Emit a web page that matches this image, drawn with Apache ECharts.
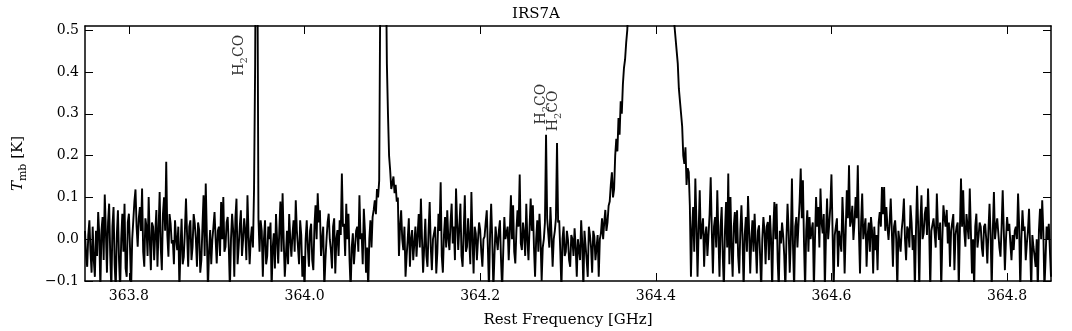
<!DOCTYPE html>
<html>
<head>
<meta charset="utf-8">
<title>IRS7A</title>
<script src="https://cdn.jsdelivr.net/npm/echarts@6/dist/echarts.min.js"></script>
<style>
  html, body { margin: 0; padding: 0; background: #fff; }
  #spec { width: 1072px; height: 331px; }
</style>
</head>
<body>
<div id="spec"></div>
<script>
// channel grid of the spectrum (GHz)
var firstChannel = 363.75;
var channelWidth = 0.00125;

// T_mb [K] per channel
var tmbLow = [
  0.02, -0.04, -0.066, 0.01, 0.045, -0.03, -0.08, 0.03, -0.05, -0.09,
  0.02, -0.04, 0.065, 0.01, -0.12, 0.02, 0.053, -0.05, 0.107, 0.02,
  -0.08, 0.04, 0.085, -0.04, -0.12, 0.03, 0.077, -0.06, -0.12, 0.01,
  0.069, -0.05, -0.12, 0.0, 0.061, -0.03, 0.085, -0.07, -0.09, 0.04,
  0.061, -0.02, -0.12, 0.0, 0.045, 0.09, 0.119, 0.03, -0.018, 0.05,
  0.077, 0.02, 0.121, -0.03, -0.066, 0.05, 0.03, -0.04, 0.101, 0.0,
  -0.074, 0.04, 0.03, -0.05, 0.014, 0.07, -0.066, 0.02, 0.113, -0.02,
  -0.074, 0.06, 0.1, 0.02, 0.185, 0.01, -0.042, 0.06, 0.037, -0.01,
  -0.002, -0.06, 0.045, 0.0, -0.026, 0.03, -0.12, -0.02, 0.049, -0.06,
  -0.042, 0.02, 0.097, 0.01, -0.066, 0.03, 0.045, -0.05, -0.018, 0.06,
  0.037, 0.0, -0.066, 0.04, 0.022, -0.08, -0.05, 0.03, 0.105, -0.04,
  0.133, 0.01, -0.12, -0.03, 0.022, -0.06, -0.002, 0.03, 0.065, 0.0,
  -0.058, 0.02, 0.03, -0.04, 0.089, 0.0, 0.101, -0.03, -0.018, 0.04,
  0.053, -0.02, -0.12, 0.0, 0.061, 0.02, -0.09, 0.05, 0.097, -0.06,
  -0.018, 0.03, 0.069, -0.04, -0.002, 0.05, 0.02, -0.05, 0.105, 0.01,
  -0.06, 0.0, 0.03, -0.02, 0.12, 0.42, 0.95, 0.7, 0.05, -0.03,
  0.045, 0.02, -0.09, 0.0, 0.045, -0.06, -0.04, 0.03, 0.0, 0.04,
  -0.12, -0.02, 0.014, -0.07, 0.06, 0.0, -0.058, 0.02, 0.09, -0.03,
  0.11, 0.0, -0.09, -0.04, 0.02, -0.06, 0.06, 0.0, -0.042, 0.01,
  0.045, -0.03, 0.093, 0.02, -0.018, -0.06, 0.045, 0.01, -0.09, -0.04,
  -0.12, 0.0, 0.045, -0.02, -0.066, 0.02, 0.037, -0.05, -0.074, 0.03,
  0.081, 0.0, 0.11, 0.04, 0.069, -0.04, -0.002, 0.03, -0.12, -0.05,
  -0.002, 0.04, 0.061, 0.0, -0.026, -0.07, 0.03, 0.05, -0.082, 0.0,
  0.022, -0.04, 0.045, 0.01, 0.157, 0.03, 0.037, -0.04, 0.085, 0.0,
  0.061, -0.05, -0.12, -0.02, 0.014, -0.06, -0.018, 0.02, 0.03, -0.03,
  0.105, 0.0, 0.014, -0.06, 0.073, 0.02, -0.08, -0.02, -0.12, 0.0,
  0.045, -0.02, 0.053, 0.07, 0.093, 0.06, 0.12, 0.1, 0.14, 0.6,
  0.7, 0.8, 0.85, 0.8, 0.7, 0.42, 0.3, 0.2, 0.165, 0.12,
  0.133, 0.15, 0.11, 0.13, 0.09, 0.1, -0.04, 0.03, 0.069, 0.0,
  -0.026, 0.03, -0.09, -0.04, 0.0, 0.05
];
var tmbMid = [
  -0.066, 0.0, 0.022, -0.05, -0.01, 0.03, -0.042, 0.01, 0.06, -0.02,
  0.097, 0.0, -0.08, -0.02, 0.049, -0.04, -0.066, 0.02, 0.089, -0.02,
  -0.074, 0.0, -0.002, 0.03, -0.082, -0.03, 0.061, 0.02, 0.136, -0.04,
  -0.08, 0.01, 0.053, -0.02, 0.069, 0.0, -0.026, 0.04, 0.085, -0.01,
  0.03, -0.05, 0.121, 0.04, -0.026, 0.03, 0.085, -0.04, -0.066, 0.02,
  0.105, -0.03, -0.018, 0.05, 0.0, -0.06, 0.113, 0.0, -0.082, 0.03,
  0.014, -0.05, -0.002, 0.04, 0.022, -0.03, -0.066, 0.0, 0.006, 0.04,
  0.069, -0.02, -0.12, 0.01, 0.085, 0.0, -0.12, -0.04, 0.03, 0.0,
  -0.026, 0.02, 0.045, -0.05, -0.12, -0.03, 0.053, 0.0, -0.002, 0.03,
  -0.05, 0.02, 0.105, 0.0, 0.081, -0.03, -0.058, 0.02, 0.069, 0.03,
  0.155, -0.01, -0.026, 0.04, 0.014, -0.04, 0.085, 0.0, -0.05, 0.03,
  0.097, 0.02, 0.081, -0.02, -0.09, 0.0, 0.045, -0.03, 0.061, 0.0,
  -0.1, -0.02, 0.0, 0.04, 0.25, 0.05, 0.053, -0.02, 0.077, 0.01,
  -0.066, 0.0, 0.02, 0.05, 0.23, 0.04, 0.045, -0.03, -0.12, 0.0,
  0.03, -0.04, -0.03, 0.02, -0.002, -0.05
];
var tmbBroad = [
  -0.066, 0.01, 0.0, -0.04, 0.026, -0.02, -0.09, 0.0, 0.0, -0.05,
  0.045, -0.01, -0.12, 0.02, 0.02, -0.05, -0.09, 0.03, 0.01, -0.02,
  -0.08, 0.02, 0.006, -0.05, -0.02, 0.01, -0.09, 0.0, 0.014, 0.05,
  0.0, 0.04, 0.07, 0.02, 0.04, 0.08, 0.09, 0.13, 0.16, 0.1,
  0.12, 0.2, 0.24, 0.21, 0.29, 0.25, 0.33, 0.3, 0.37, 0.41,
  0.43, 0.47, 0.5, 0.56, 0.6, 0.68, 0.72, 0.8, 0.86, 0.95,
  1.0, 1.1, 1.15, 1.24, 1.3, 1.35, 1.42, 1.48, 1.52, 1.57,
  1.58, 1.61, 1.62, 1.6, 1.63, 1.59, 1.6, 1.56, 1.55, 1.49,
  1.46, 1.41, 1.35, 1.26, 1.2, 1.11, 1.05, 0.96, 0.9, 0.84,
  0.77, 0.72, 0.65, 0.61, 0.56, 0.51, 0.48, 0.45, 0.42, 0.36,
  0.33, 0.3, 0.27, 0.2, 0.18, 0.22, 0.13, 0.17, 0.16, 0.08,
  -0.09, 0.02, 0.077, -0.03, 0.145, 0.04, -0.09, 0.02, 0.117, 0.0,
  -0.002, 0.05, -0.066, 0.01, 0.03, -0.04, -0.042, 0.06, 0.148, 0.02,
  -0.082, 0.03, 0.053, -0.02, 0.117, 0.01, -0.09, 0.03, 0.077, -0.04,
  -0.12, 0.02, 0.089, -0.02, 0.157, -0.06
];
var tmbHighA = [
  0.101, -0.02, -0.09, 0.03, 0.065, -0.01, 0.069, -0.04, -0.082, 0.02,
  0.081, 0.0, -0.12, 0.01, 0.053, -0.03, 0.103, 0.02, -0.082, 0.0,
  0.045, -0.03, 0.061, -0.01, -0.082, 0.02, 0.033, -0.04, -0.12, 0.0,
  0.053, 0.02, -0.06, 0.03, 0.041, -0.05, 0.057, 0.0, -0.12, 0.02,
  0.089, 0.0, 0.085, -0.05, -0.12, 0.02, -0.01, 0.04, 0.01, -0.04,
  -0.12, 0.0, 0.085, 0.02, -0.08, 0.0, 0.145, -0.02, -0.12, 0.03,
  0.053, -0.02, 0.037, 0.09, 0.169, 0.05, 0.141, -0.01, -0.12, 0.02,
  0.069, -0.03, 0.053, 0.0, 0.022, 0.04, -0.12, 0.0, 0.101, 0.03,
  0.077, -0.02, 0.121, 0.04, 0.014, 0.06, -0.12, 0.01, 0.097, 0.0,
  0.037, 0.08, 0.155, 0.02, -0.12, 0.01, 0.03, 0.05, -0.066, 0.02,
  0.022, -0.03, 0.101, 0.03, -0.082, 0.02, 0.117, 0.05, 0.177, 0.03,
  0.045, 0.08, -0.002, 0.04, 0.101, 0.05, 0.177, 0.02, -0.082, 0.04,
  0.109, 0.0, -0.002, 0.05, -0.066, 0.01, 0.04, -0.03, 0.053, 0.02,
  -0.082, 0.03, -0.026, 0.01, -0.074, 0.04, 0.065, 0.03, 0.125, 0.06,
  0.125, 0.02, 0.077, 0.03, -0.002, 0.04
];
var tmbHighB = [
  0.097, 0.02, -0.066, 0.03, 0.045, 0.0, -0.12, 0.02, 0.018, -0.03,
  0.022, 0.05, 0.097, 0.0, -0.05, 0.03, 0.022, -0.02, 0.081, 0.04,
  -0.026, 0.01, -0.12, 0.02, 0.128, 0.03, -0.12, 0.04, 0.105, 0.0,
  0.014, 0.06, 0.077, 0.01, 0.121, 0.03, -0.12, 0.02, 0.022, 0.05,
  0.053, -0.02, 0.109, 0.03, -0.002, 0.04, -0.12, 0.0, 0.081, 0.05,
  0.03, 0.07, -0.01, 0.04, -0.066, 0.02, 0.022, 0.06, -0.074, 0.01,
  0.03, 0.04, -0.12, 0.02, 0.145, 0.03, 0.117, 0.02, -0.018, 0.06,
  0.03, 0.0, 0.121, 0.02, -0.082, 0.0, -0.12, 0.03, 0.061, -0.02,
  0.006, 0.04, 0.03, -0.02, -0.042, 0.03, 0.037, 0.0, -0.058, 0.02,
  0.085, 0.01, -0.12, 0.02, 0.113, 0.0, 0.03, 0.05, 0.053, -0.02,
  -0.042, 0.03, 0.117, 0.02, -0.074, 0.0, 0.053, 0.02, 0.037, -0.01,
  -0.05, 0.01, -0.026, 0.02, 0.03, 0.0, 0.109, 0.03, -0.12, 0.0,
  0.069, 0.02, 0.03, -0.05, -0.01, 0.02, 0.073, -0.02, -0.12, 0.01,
  -0.018, -0.04, -0.066, 0.0, -0.12, 0.02, 0.073, 0.0, 0.093, 0.02,
  -0.12, -0.05, 0.03, 0.0, 0.037, 0.04, -0.09
];

var freqTicks = [363.8, 364.0, 364.2, 364.4, 364.6, 364.8];
var tmbTicks = [-0.1, 0.0, 0.1, 0.2, 0.3, 0.4, 0.5];

// line identifications (label anchor in data coords)
var lineNames = ['H2CO', 'H2CO', 'H2CO'];
var lineFreq = [363.927, 364.271, 364.285];
var lineTmb = [0.44, 0.323, 0.307];

var tmb = tmbLow.concat(tmbMid, tmbBroad, tmbHighA, tmbHighB);
var spectrum = tmb.map(function (v, i) {
  return [+(firstChannel + i * channelWidth).toFixed(5), v];
});
var idents = lineNames.map(function (n, i) {
  return { value: [lineFreq[i], lineTmb[i]], name: n };
});

var serif = 'DejaVu Serif';
var txt = { fontFamily: serif, fontSize: 15, color: '#000' };

function axisBase(extra) {
  var a = {
    type: 'value',
    axisLine: { show: true, onZero: false, lineStyle: { color: '#000', width: 1.5 } },
    splitLine: { show: false },
    minorTick: { show: false }
  };
  for (var k in extra) a[k] = extra[k];
  return a;
}
function ticks(vals) {
  return { show: true, inside: true, length: 8, customValues: vals, lineStyle: { color: '#000', width: 1 } };
}

var chart = echarts.init(document.getElementById('spec'));
chart.setOption({
  animation: false,
  backgroundColor: '#fff',
  title: {
    text: 'IRS7A', left: 'center', top: 2,
    textStyle: { fontFamily: serif, fontSize: 15, fontWeight: 'normal', color: '#000' }
  },
  grid: { left: 85, right: 21, top: 26, bottom: 50, outerBoundsMode: 'none' },
  xAxis: [
    axisBase({
      min: 363.75, max: 364.85, position: 'bottom',
      name: 'Rest Frequency [GHz]', nameLocation: 'middle', nameGap: 32,
      nameTextStyle: txt,
      axisTick: ticks(freqTicks),
      axisLabel: {
        customValues: freqTicks, margin: 8, fontFamily: serif, fontSize: 14, color: '#000',
        formatter: function (v) { return v.toFixed(1); }
      }
    }),
    axisBase({
      min: 363.75, max: 364.85, position: 'top',
      axisTick: ticks(freqTicks),
      axisLabel: { show: false }
    })
  ],
  yAxis: [
    axisBase({
      min: -0.1, max: 0.51, position: 'left',
      name: '{t|T}{s|mb}{n| [K]}', nameLocation: 'middle', nameGap: 56,
      nameTextStyle: {
        padding: [0, 20, 0, 0],
        rich: {
          t: { fontFamily: serif, fontSize: 15, fontStyle: 'italic', color: '#000', verticalAlign: 'bottom', padding: [0, 0, 3, 0] },
          s: { fontFamily: serif, fontSize: 11, color: '#000', verticalAlign: 'bottom' },
          n: { fontFamily: serif, fontSize: 15, color: '#000', verticalAlign: 'bottom', padding: [0, 0, 3, 0] }
        }
      },
      axisTick: ticks(tmbTicks),
      axisLabel: {
        customValues: tmbTicks, margin: 6, fontFamily: serif, fontSize: 14, color: '#000',
        formatter: function (v) { return v.toFixed(1).replace('-', '\u2212'); }
      }
    }),
    axisBase({
      min: -0.1, max: 0.51, position: 'right',
      axisTick: ticks(tmbTicks),
      axisLabel: { show: false }
    })
  ],
  series: [
    {
      type: 'line',
      data: spectrum,
      symbol: 'none',
      clip: true,
      lineStyle: { color: '#000', width: 1.9 },
      silent: true
    },
    {
      type: 'scatter',
      data: idents,
      symbolSize: 2,
      itemStyle: { color: 'rgba(0,0,0,0)' },
      silent: true,
      z: 5,
      label: {
        show: true,
        position: 'inside',
        rotate: 90,
        formatter: '{n|H}{s|2}{n|CO}',
        rich: {
          n: { fontFamily: serif, fontSize: 14, color: '#000', verticalAlign: 'bottom', padding: [0, 0, 3, 0] },
          s: { fontFamily: serif, fontSize: 10, color: '#000', verticalAlign: 'bottom' }
        }
      },
      labelLayout: { hideOverlap: false }
    }
  ]
});
</script>
</body>
</html>
